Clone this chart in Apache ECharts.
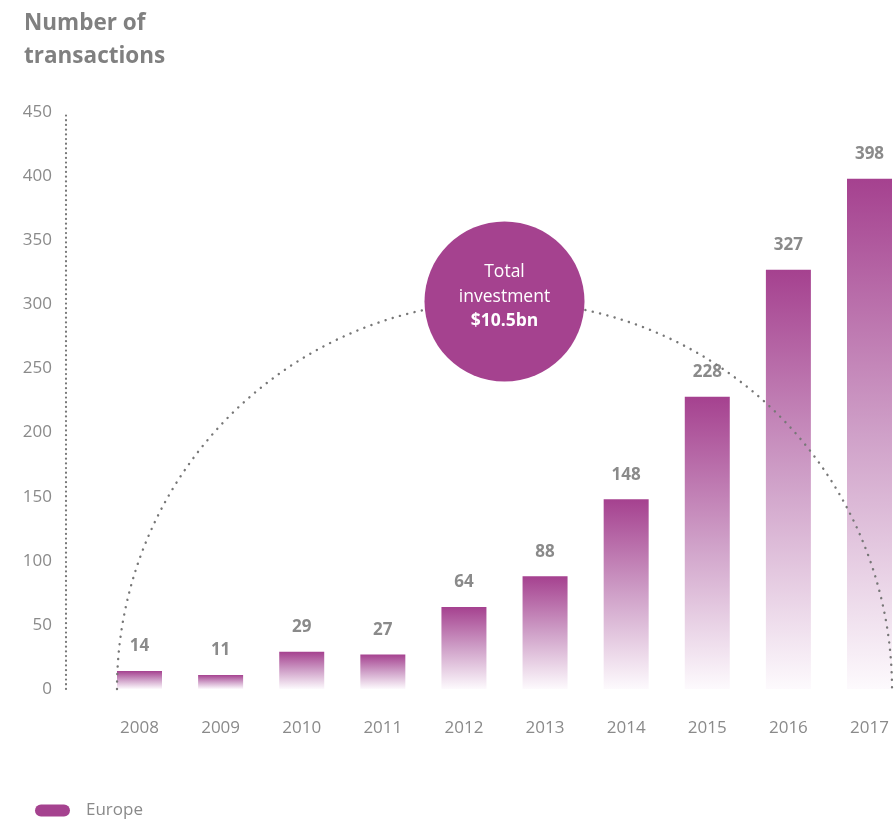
<!DOCTYPE html>
<html>
<head>
<meta charset="utf-8">
<title>Number of transactions</title>
<script src="https://cdn.jsdelivr.net/npm/echarts@6/dist/echarts.min.js"></script>
<style>
  html, body { margin: 0; padding: 0; background: #ffffff; }
  #chart { width: 894px; height: 820px; }
</style>
</head>
<body>
<div id="chart"></div>
<script>
// Deal counts per year
const years = ['2008', '2009', '2010', '2011', '2012', '2013', '2014', '2015', '2016', '2017'];
const europeDeals = [14, 11, 29, 27, 64, 88, 148, 228, 327, 398];
const seriesName = 'Europe';

// Value axis range
const yMin = 0;
const yMax = 450;
const yStep = 50;

// Callout text
const bubbleLines = ['Total', 'investment', '$10.5bn'];

const FONT = '"Open Sans", "Noto Sans", sans-serif';
const PURPLE = '#a5428f';
const GREY = '#8a8a8a';
const BAR_W = 45;

const chart = echarts.init(document.getElementById('chart'));

chart.setOption({
  animation: false,
  backgroundColor: '#ffffff',
  title: {
    text: 'Number of\ntransactions',
    left: 19,
    top: 2,
    textStyle: {
      fontFamily: FONT,
      fontSize: 22.5,
      fontWeight: 'bold',
      color: '#808080',
      lineHeight: 33
    }
  },
  legend: {
    left: 35,
    top: 802,
    padding: 0,
    itemWidth: 35,
    itemHeight: 12,
    icon: 'path://M6,0 H29 A6,6 0 0 1 29,12 H6 A6,6 0 0 1 6,0 Z',
    data: [{ name: seriesName, itemStyle: { color: PURPLE } }],
    textStyle: {
      fontFamily: FONT,
      fontSize: 17,
      color: GREY,
      padding: [0, 0, 0, 11]
    },
    selectedMode: false
  },
  grid: {
    // first and last category sit on the grid edges
    left: 139.5,
    right: 24.5,
    top: 112,
    bottom: 131,
    containLabel: false
  },
  xAxis: {
    type: 'category',
    data: years,
    boundaryGap: false,
    axisLine: { show: false },
    axisTick: { show: false },
    axisLabel: {
      fontFamily: FONT,
      fontSize: 17,
      color: GREY,
      margin: 31
    }
  },
  yAxis: {
    type: 'value',
    min: yMin,
    max: yMax,
    interval: yStep,
    offset: 73.5,
    splitLine: { show: false },
    axisTick: { show: false },
    axisLine: {
      show: true,
      lineStyle: { color: '#777777', width: 2.2, type: [0.1, 4.6], cap: 'round' }
    },
    axisLabel: {
      fontFamily: FONT,
      fontSize: 17,
      color: GREY,
      margin: 14
    }
  },
  series: [
    {
      name: seriesName,
      type: 'bar',
      data: europeDeals,
      barWidth: BAR_W,
      clip: false,
      z: 2,
      itemStyle: {
        color: new echarts.graphic.LinearGradient(0, 0, 0, 1, [
          { offset: 0, color: '#a5418f' },
          { offset: 0.5, color: '#cfa0c8' },
          { offset: 1, color: '#fdfafd' }
        ])
      },
      label: {
        show: true,
        position: 'top',
        distance: 16,
        fontFamily: FONT,
        fontSize: 17,
        fontWeight: 'bold',
        color: GREY
      }
    },
    {
      // Dotted half-circle spanning the bar range, with the investment bubble at its apex
      name: 'callout',
      type: 'custom',
      z: 5,
      silent: true,
      clip: false,
      data: [[0, 0]],
      renderItem: function (params, api) {
        const first = api.coord([0, 0]);
        const last = api.coord([years.length - 1, 0]);
        const cx = (first[0] + last[0]) / 2;
        const cy = first[1];
        const r = (last[0] - first[0]) / 2 + BAR_W / 2;
        return {
          type: 'group',
          children: [
            {
              type: 'arc',
              shape: { cx: cx, cy: cy, r: r, startAngle: Math.PI, endAngle: Math.PI * 2 },
              style: {
                fill: null,
                stroke: '#777777',
                lineWidth: 2.4,
                lineDash: [0.1, 7.4],
                lineCap: 'round'
              }
            },
            {
              type: 'circle',
              shape: { cx: cx, cy: cy - r, r: 80 },
              style: { fill: PURPLE }
            },
            {
              type: 'text',
              x: cx,
              y: cy - r - 4.5,
              style: {
                text: bubbleLines[0] + '\n' + bubbleLines[1] + '\n{b|' + bubbleLines[2] + '}',
                fill: '#ffffff',
                fontFamily: FONT,
                fontSize: 17.5,
                lineHeight: 24.5,
                align: 'center',
                verticalAlign: 'middle',
                rich: {
                  b: {
                    fontFamily: FONT,
                    fontSize: 17.5,
                    fontWeight: 'bold',
                    fill: '#ffffff',
                    lineHeight: 24.5
                  }
                }
              }
            }
          ]
        };
      }
    }
  ]
});
</script>
</body>
</html>
